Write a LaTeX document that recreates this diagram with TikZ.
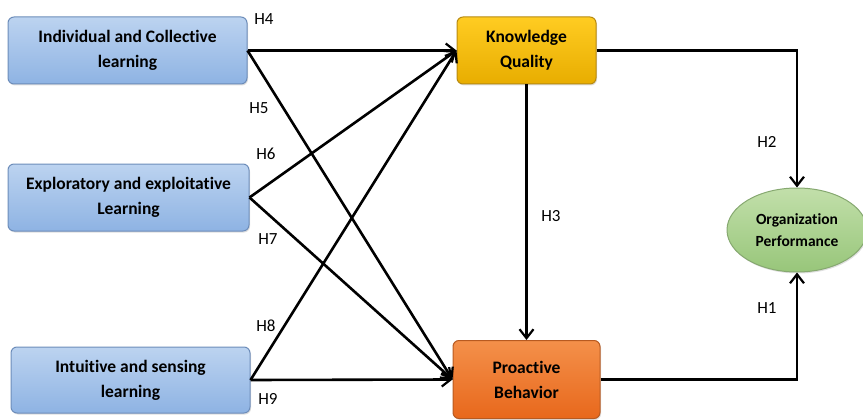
\documentclass[tikz,border=0pt]{standalone}
\usepackage{fontspec}
\setmainfont{Carlito}[Ligatures=NoCommon]
\usetikzlibrary{arrows.meta,shapes.geometric,shadows}
\begin{document}
\begin{tikzpicture}[x=1pt,y=-1pt,
  box/.style={rounded corners=6pt, line width=1pt, align=center, font=\fontsize{17.5}{25}\selectfont\bfseries, inner sep=2pt,
    drop shadow={shadow xshift=1pt,shadow yshift=-1.5pt,opacity=0.25}},
  bluebox/.style={box, minimum width=239pt, minimum height=67pt},
  link/.style={line width=2.6pt, -{Straight Barb[length=9pt,width=14pt,line width=2.2pt]}},
  lab/.style={font=\fontsize{17}{19}\selectfont, inner sep=0pt}
]
\useasboundingbox (0,0) rectangle (863,420);
\definecolor{bluetop}{HTML}{BCD3F0}
\definecolor{bluebot}{HTML}{8EB3E3}
\definecolor{blueedge}{HTML}{6D8DBA}
\definecolor{ytop}{HTML}{FFCC22}
\definecolor{ybot}{HTML}{E8AD00}
\definecolor{yedge}{HTML}{B88A10}
\definecolor{otop}{HTML}{F4904A}
\definecolor{obot}{HTML}{E8681C}
\definecolor{oedge}{HTML}{B85A20}
\definecolor{gtop}{HTML}{C2DFAA}
\definecolor{gbot}{HTML}{98C67A}
\definecolor{gedge}{HTML}{86A870}

\node[bluebox, top color=bluetop, bottom color=bluebot, draw=blueedge] (b1) at (127.5,50.5) {Individual and Collective\\learning};
\node[bluebox, top color=bluetop, bottom color=bluebot, draw=blueedge, minimum width=241pt] (b2) at (128.5,197.5) {Exploratory and exploitative\\Learning};
\node[bluebox, top color=bluetop, bottom color=bluebot, draw=blueedge, minimum height=66pt] (b3) at (130.5,380) {Intuitive and sensing\\learning};

\node[box, top color=ytop, bottom color=ybot, draw=yedge, minimum width=139pt, minimum height=67pt] (kq) at (526.5,50.5) {Knowledge\\Quality};
\node[box, top color=otop, bottom color=obot, draw=oedge, minimum width=147pt, minimum height=78pt] (pb) at (526.5,379.5) {Proactive\\Behavior};
\node[ellipse, line width=1pt, draw=gedge, top color=gtop, bottom color=gbot, minimum width=140pt, minimum height=84pt, inner sep=0pt, align=center,
  font=\fontsize{15.5}{22}\selectfont\bfseries, drop shadow={shadow xshift=1pt,shadow yshift=-1.5pt,opacity=0.25}] (op) at (797,230) {Organization\\Performance};

\draw[link] (b1.east) -- (kq.west);
\draw[link] (b1.east) -- (pb.west);
\draw[link] (b2.east) -- (kq.west);
\draw[link] (b2.east) -- (pb.west);
\draw[link] (b3.east) -- (kq.west);
\draw[link] (b3.east) -- (pb.west);
\draw[link] (kq.south) -- (pb.north);
\draw[link] (kq.east) -| (op.north);
\draw[link] (pb.east) -| (op.south);

\node[lab] (h4) at (264,19) {H4};
\node[lab] (h5) at (259,108) {H5};
\node[lab] (h6) at (266,154) {H6};
\node[lab] (h7) at (268,239) {H7};
\node[lab] (h8) at (266,326) {H8};
\node[lab] (h9) at (268,399) {H9};
\node[lab] (h3) at (551,216) {H3};
\node[lab] (h2) at (767,142) {H2};
\node[lab] (h1) at (767,308) {H1};
\end{tikzpicture}
\end{document}
